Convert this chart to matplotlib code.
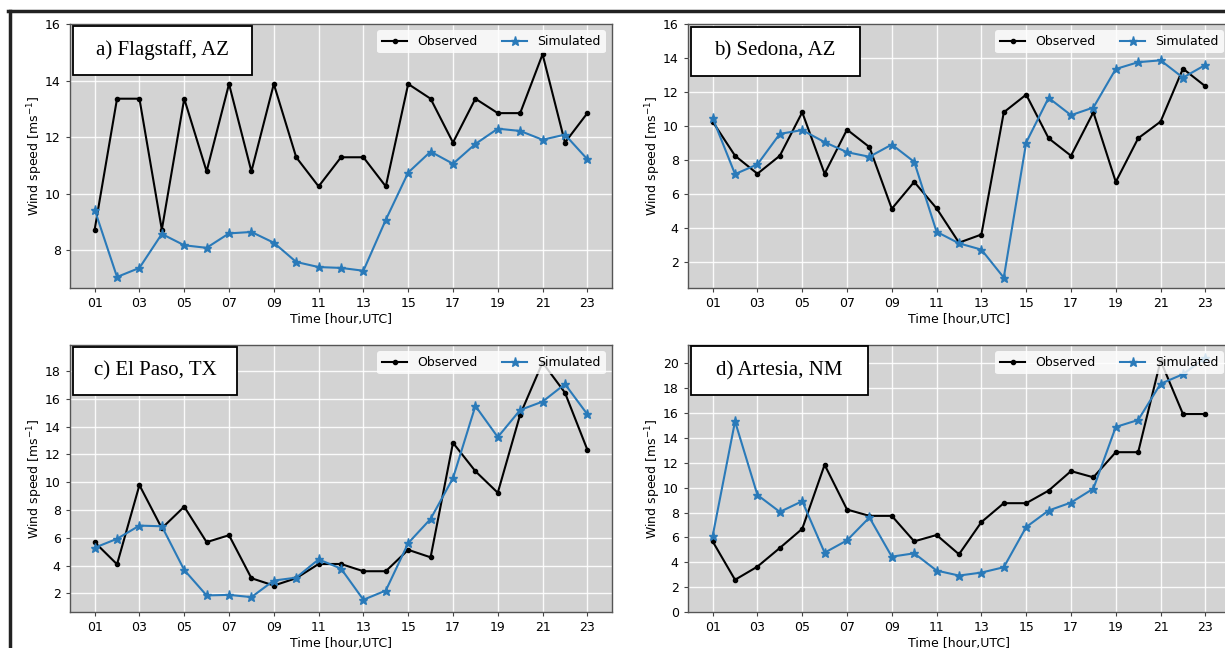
import matplotlib
matplotlib.use("Agg")
import matplotlib.pyplot as plt
from matplotlib.patches import Rectangle

hours = list(range(1, 24))
tick_hours = list(range(1, 24, 2))
tick_labels = [f"{h:02d}" for h in tick_hours]

titles = ["a) Flagstaff, AZ", "b) Sedona, AZ", "c) El Paso, TX", "d) Artesia, NM"]

obs_a = [8.73, 13.36, 13.36, 8.73, 13.36, 10.79, 13.88, 10.79, 13.88, 11.29, 10.26, 11.29,
         11.29, 10.26, 13.88, 13.36, 11.81, 13.36, 12.85, 12.85, 14.93, 11.81, 12.85]
sim_a = [9.44, 7.06, 7.38, 8.58, 8.18, 8.09, 8.60, 8.65, 8.27, 7.59, 7.41, 7.38,
         7.28, 9.08, 10.75, 11.49, 11.06, 11.76, 12.30, 12.22, 11.91, 12.09, 11.22]

obs_b = [10.25, 8.24, 7.18, 8.24, 10.80, 7.18, 9.78, 8.75, 5.12, 6.70, 5.14, 3.12,
         3.60, 10.80, 11.84, 9.27, 8.24, 10.80, 6.70, 9.27, 10.25, 13.37, 12.33]
sim_b = [10.47, 7.16, 7.73, 9.53, 9.75, 9.04, 8.45, 8.18, 8.90, 7.88, 3.76, 3.08,
         2.71, 1.06, 9.02, 11.65, 10.63, 11.08, 13.35, 13.75, 13.86, 12.84, 13.59]

obs_c = [5.69, 4.10, 9.79, 6.69, 8.24, 5.69, 6.19, 3.10, 2.57, 3.10, 4.12, 4.12,
         3.60, 3.60, 5.14, 4.60, 12.83, 10.79, 9.24, 14.86, 18.60, 16.43, 12.33]
sim_c = [5.29, 5.93, 6.88, 6.83, 3.69, 1.86, 1.90, 1.74, 2.93, 3.14, 4.45, 3.79,
         1.55, 2.21, 5.62, 7.36, 10.29, 15.48, 13.24, 15.19, 15.79, 17.05, 14.88]

obs_d = [5.68, 2.59, 3.65, 5.15, 6.69, 11.84, 8.24, 7.73, 7.73, 5.68, 6.19, 4.64,
         7.23, 8.75, 8.75, 9.76, 11.33, 10.83, 12.85, 12.85, 20.20, 15.92, 15.92]
sim_d = [6.10, 15.33, 9.41, 8.05, 8.91, 4.77, 5.76, 7.60, 4.45, 4.72, 3.33, 2.93,
         3.17, 3.60, 6.83, 8.16, 8.80, 9.92, 14.88, 15.44, 18.35, 19.12, 20.45]

observed = [obs_a, obs_b, obs_c, obs_d]
simulated = [sim_a, sim_b, sim_c, sim_d]
ylims = [(6.67, 16.0), (0.45, 16.0), (0.67, 19.86), (0.0, 21.47)]
yticks = [[8, 10, 12, 14, 16], [2, 4, 6, 8, 10, 12, 14, 16],
          [2, 4, 6, 8, 10, 12, 14, 16, 18], [0, 2, 4, 6, 8, 10, 12, 14, 16, 18, 20]]

W, H = 1225, 648
fig = plt.figure(figsize=(W / 100, H / 100), dpi=100)
fig.patch.set_facecolor("white")

def px_axes(l, t, r, b):
    return [l / W, 1 - b / H, (r - l) / W, (b - t) / H]

rects = [px_axes(70, 24, 612, 288), px_axes(688, 24, 1230, 288),
         px_axes(70, 345, 612, 612), px_axes(688, 345, 1230, 612)]
boxes = [(0.006, 0.808, 0.330, 0.185), (0.005, 0.804, 0.312, 0.186),
         (0.006, 0.814, 0.303, 0.180), (0.005, 0.812, 0.328, 0.183)]

sim_color = "#2a7ab9"
for i in range(4):
    ax = fig.add_axes(rects[i])
    ax.set_facecolor("#d3d3d3")
    ax.grid(True, color="white", linewidth=1.0, alpha=0.9)
    ax.set_axisbelow(True)
    ax.plot(hours, observed[i], color="black", marker=".", markersize=6,
            linewidth=1.5, label="Observed", zorder=3)
    ax.plot(hours, simulated[i], color=sim_color, marker="*", markersize=6.5,
            linewidth=1.5, label="Simulated", zorder=3)
    ax.set_xticks(tick_hours)
    ax.set_xticklabels(tick_labels)
    ax.set_yticks(yticks[i])
    ax.set_ylim(*ylims[i])
    ax.tick_params(labelsize=9, color="#444444", length=3.2)
    ax.set_xlabel("Time [hour,UTC]", fontsize=9, labelpad=2)
    ax.set_ylabel("Wind speed [ms$^{-1}$]", fontsize=9, labelpad=0)
    for sp in ax.spines.values():
        sp.set_color("#555555")
        sp.set_linewidth(1.0)
    leg = ax.legend(loc="upper right", ncol=2, fontsize=9, framealpha=0.8,
                    edgecolor="none", fancybox=True, borderaxespad=0.5,
                    columnspacing=2.0)
    leg.set_zorder(5)
    bx, by, bw, bh = boxes[i]
    ax.add_patch(Rectangle((bx, by), bw, bh, transform=ax.transAxes,
                           facecolor="white", edgecolor="black", linewidth=1.3,
                           zorder=6))
    ax.text(bx + bw / 2, by + bh / 2, titles[i], transform=ax.transAxes,
            ha="center", va="center", fontsize=15, family="Liberation Serif",
            zorder=7)

# outer frame lines of the composite figure
fig.add_artist(plt.Line2D([8 / W, 1.0], [1 - 11 / H, 1 - 11 / H], color="#222222",
                          linewidth=2.5, transform=fig.transFigure))
fig.add_artist(plt.Line2D([9.5 / W, 9.5 / W], [0.0, 1 - 11 / H], color="#222222",
                          linewidth=2.5, transform=fig.transFigure))

fig.savefig("out.png", dpi=100)
